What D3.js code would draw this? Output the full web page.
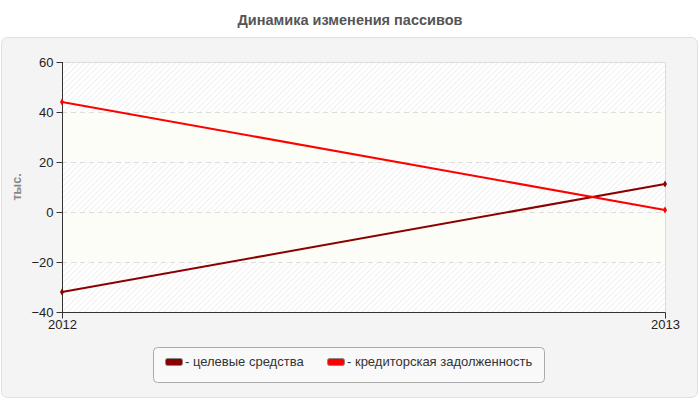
<!DOCTYPE html>
<html>
<head>
<meta charset="utf-8">
<script src="https://cdn.jsdelivr.net/npm/d3@7/dist/d3.min.js"></script>
<style>
  body { margin: 0; background: #fff; }
  svg { display: block; font-family: "Liberation Sans", Arial, sans-serif; }
</style>
</head>
<body>
<div id="chart"></div>
<script>
const years = ["2012", "2013"];
const yTicks = [-40, -20, 0, 20, 40, 60];
const seriesNames = ["целевые средства", "кредиторская задолженность"];
const seriesColors = ["#8b0000", "#ff0000"];
const targetFunds = [-32, 11.2];
const payables = [44, 0.8];
const seriesValues = [targetFunds, payables];

const WIDTH = 700;
const HEIGHT = 400;
const PLOT = { left: 62, right: 665, top: 62, bottom: 312 };

const svg = d3
  .select("#chart")
  .append("svg")
  .attr("width", WIDTH)
  .attr("height", HEIGHT);

const defs = svg.append("defs");
const hatch = defs
  .append("pattern")
  .attr("id", "hatch")
  .attr("patternUnits", "userSpaceOnUse")
  .attr("width", 4)
  .attr("height", 4)
  .attr("patternTransform", "rotate(45)");
hatch.append("rect").attr("width", 4).attr("height", 4).attr("fill", "#ffffff");
hatch
  .append("line")
  .attr("x1", 0)
  .attr("y1", 0)
  .attr("x2", 0)
  .attr("y2", 4)
  .attr("stroke", "#ececec")
  .attr("stroke-width", 1.5);

// title
svg
  .append("text")
  .attr("x", WIDTH / 2)
  .attr("y", 25)
  .attr("text-anchor", "middle")
  .attr("font-size", 14.5)
  .attr("font-weight", "bold")
  .attr("fill", "#555")
  .text("Динамика изменения пассивов");

// outer panel
svg
  .append("rect")
  .attr("x", 1.5)
  .attr("y", 37.5)
  .attr("width", 696)
  .attr("height", 360)
  .attr("rx", 6)
  .attr("fill", "#f4f4f4")
  .attr("stroke", "#e0e0e0");

const x = d3
  .scalePoint()
  .domain(years)
  .range([PLOT.left, PLOT.right]);

const y = d3
  .scaleLinear()
  .domain([-40, 60])
  .range([PLOT.bottom, PLOT.top]);

// background bands
const bandGroup = svg.append("g").attr("class", "bands");
yTicks.slice(0, -1).forEach((lo, i) => {
  const hi = yTicks[i + 1];
  bandGroup
    .append("rect")
    .attr("x", PLOT.left)
    .attr("y", y(hi))
    .attr("width", PLOT.right - PLOT.left)
    .attr("height", y(lo) - y(hi))
    .attr("fill", i % 2 === 0 ? "url(#hatch)" : "#fdfdf7");
});

// plot border (top/right)
svg
  .append("path")
  .attr("d", `M${PLOT.left},${PLOT.top + 0.5}H${PLOT.right + 0.5}V${PLOT.bottom}`)
  .attr("fill", "none")
  .attr("stroke", "#dcdcdc");

// grid lines
svg
  .append("g")
  .selectAll("line")
  .data(yTicks.filter((t) => t !== -40 && t !== 60))
  .join("line")
  .attr("x1", PLOT.left)
  .attr("x2", PLOT.right)
  .attr("y1", (d) => Math.round(y(d)) + 0.5)
  .attr("y2", (d) => Math.round(y(d)) + 0.5)
  .attr("stroke", "#dddddd")
  .attr("stroke-dasharray", "5,4");

// axes
const yAxis = svg
  .append("g")
  .attr("transform", `translate(${PLOT.left + 0.5},0)`)
  .call(d3.axisLeft(y).tickValues(yTicks).tickSize(6).tickPadding(3));
const xAxis = svg
  .append("g")
  .attr("transform", `translate(0,${PLOT.bottom + 0.5})`)
  .call(d3.axisBottom(x).tickSize(6).tickPadding(1));

[yAxis, xAxis].forEach((axis) => {
  axis.select(".domain").attr("stroke", "#333");
  axis.selectAll(".tick line").attr("stroke", "#333");
  axis
    .selectAll(".tick text")
    .attr("fill", "#222")
    .attr("font-size", 13)
    .attr("font-family", "Liberation Sans, Arial, sans-serif");
});
yAxis.select(".domain").attr("d", `M0,${PLOT.top}V${PLOT.bottom}`);
xAxis.select(".domain").attr("d", `M${PLOT.left},0H${PLOT.right + 0.5}`);

// y axis label
svg
  .append("text")
  .attr("transform", "translate(21,187) rotate(-90)")
  .attr("text-anchor", "middle")
  .attr("font-size", 12.5)
  .attr("font-weight", "bold")
  .attr("fill", "#888")
  .text("тыс.");

// lines
const line = d3
  .line()
  .x((d, i) => x(years[i]))
  .y((d) => y(d));

const linesGroup = svg.append("g").attr("class", "series");
seriesValues.forEach((values, si) => {
  linesGroup
    .append("path")
    .attr("d", line(values))
    .attr("fill", "none")
    .attr("stroke", seriesColors[si])
    .attr("stroke-width", 2);
  linesGroup
    .selectAll(null)
    .data(values)
    .join("path")
    .attr("d", d3.symbol(d3.symbolDiamond, 14)())
    .attr("transform", (d, i) => `translate(${x(years[i])},${y(d)})`)
    .attr("fill", seriesColors[si]);
});

// legend
const legend = svg.append("g").attr("class", "legend");
legend
  .append("rect")
  .attr("x", 153.5)
  .attr("y", 347.5)
  .attr("width", 391)
  .attr("height", 35)
  .attr("rx", 4)
  .attr("fill", "#f9f9f9")
  .attr("stroke", "#aaaaaa");

const legendX = [165, 327];
seriesNames.forEach((name, i) => {
  legend
    .append("rect")
    .attr("x", legendX[i] + 0.5)
    .attr("y", 358.5)
    .attr("width", 17)
    .attr("height", 7)
    .attr("rx", 2)
    .attr("fill", seriesColors[i])
    .attr("stroke", "#888");
  legend
    .append("text")
    .attr("x", legendX[i] + 20)
    .attr("y", 366)
    .attr("font-size", 13)
    .attr("fill", "#333")
    .text("- " + name);
});
</script>
</body>
</html>
